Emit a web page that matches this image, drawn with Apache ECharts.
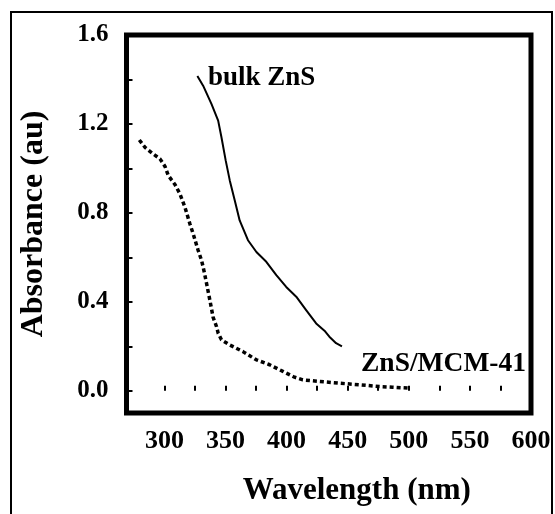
<!DOCTYPE html>
<html>
<head>
<meta charset="utf-8">
<script src="https://cdn.jsdelivr.net/npm/echarts@6/dist/echarts.min.js"></script>
<style>
  html, body { margin: 0; padding: 0; background: #fff; }
  #chart { width: 555px; height: 514px; }
</style>
</head>
<body>
<div id="chart"></div>
<script>
// data (wavelength nm, absorbance)
var bulkZnS = [
  [327, 1.416], [331.7, 1.372], [338.5, 1.29], [344, 1.215], [346.7, 1.14],
  [350.2, 1.035], [353.5, 0.946], [357.6, 0.856], [361.6, 0.766], [368.4, 0.677],
  [375.3, 0.624], [383.4, 0.58], [391.6, 0.52], [399.7, 0.467], [407.9, 0.423],
  [416, 0.363], [424.2, 0.303], [431, 0.27], [435, 0.243], [440.5, 0.214], [445.3, 0.2]
];
var mcm41 = [
  [279.5, 1.128], [284.1, 1.095], [290.9, 1.065], [296.4, 1.043], [300.5, 1.009],
  [303.2, 0.968], [308.6, 0.928], [312.7, 0.886], [316.8, 0.826], [320.8, 0.752],
  [323.5, 0.707], [327.6, 0.632], [330.4, 0.587], [332.3, 0.542], [334.5, 0.483],
  [337.2, 0.408], [339.9, 0.33], [342.7, 0.288], [344, 0.259], [346.7, 0.229],
  [353.5, 0.206], [364.3, 0.176], [375.3, 0.139], [386.1, 0.117], [397, 0.087],
  [406.5, 0.061], [413.3, 0.049], [426.9, 0.042], [443.2, 0.034], [459.5, 0.027],
  [475.8, 0.019], [486.7, 0.016], [499, 0.012]
];
var xLabels = [300, 350, 400, 450, 500, 550, 600];
var xTicks = [300, 325, 350, 375, 400, 425, 450, 475, 500, 525, 550, 575];
var yLabels = [0, 0.4, 0.8, 1.2, 1.6];
var yTicks = [0, 0.2, 0.4, 0.6, 0.8, 1.0, 1.2, 1.4];

var serif = '"Liberation Serif", "Times New Roman", serif';

var option = {
  backgroundColor: '#fff',
  animation: false,
  grid: {
    left: 126.5, top: 35, right: 24, bottom: 101,
    outerBoundsMode: 'none',
    show: true, borderColor: '#000', borderWidth: 5, backgroundColor: 'transparent'
  },
  xAxis: {
    type: 'value', min: 269, max: 600,
    name: 'Wavelength (nm)', nameLocation: 'middle', nameGap: 62,
    nameTextStyle: { fontFamily: serif, fontWeight: 'bold', fontSize: 31, color: '#000', padding: [0, 0, 0, 56] },
    axisLine: { show: false },
    splitLine: { show: false },
    axisTick: { inside: true, length: 5, lineStyle: { color: '#000', width: 2 }, customValues: xTicks },
    axisLabel: { customValues: xLabels, margin: 15, fontFamily: serif, fontWeight: 'bold', fontSize: 26, color: '#000' }
  },
  yAxis: {
    type: 'value', min: -0.1, max: 1.6,
    name: 'Absorbance (au)', nameLocation: 'middle', nameGap: 77, nameRotate: 90,
    nameTextStyle: { fontFamily: serif, fontWeight: 'bold', fontSize: 32, color: '#000' },
    axisLine: { show: false },
    splitLine: { show: false },
    axisTick: { inside: true, length: 6, lineStyle: { color: '#000', width: 2 }, customValues: yTicks },
    axisLabel: {
      customValues: yLabels, margin: 18, fontFamily: serif, fontWeight: 'bold', fontSize: 25, color: '#000',
      formatter: function (v) { return v.toFixed(1); }
    }
  },
  series: [
    {
      name: 'bulk ZnS', type: 'line', data: bulkZnS, symbol: 'none', smooth: false,
      lineStyle: { color: '#000', width: 2 }
    },
    {
      name: 'ZnS/MCM-41', type: 'line', data: mcm41, symbol: 'none', smooth: false,
      lineStyle: { color: '#000', width: 3.5, type: [4, 3] }
    }
  ],
  graphic: [
    { type: 'rect', shape: { x: 11, y: 12, width: 541, height: 520 }, style: { fill: 'none', stroke: '#000', lineWidth: 2 } },
    { type: 'text', left: 208, top: 65, style: { text: 'bulk ZnS', font: 'bold 27px ' + serif, fill: '#000' } },
    { type: 'text', left: 361, top: 350, style: { text: 'ZnS/MCM-41', font: 'bold 27.5px ' + serif, fill: '#000' } }
  ]
};

var myChart = echarts.init(document.getElementById('chart'));
myChart.setOption(option);
</script>
</body>
</html>
